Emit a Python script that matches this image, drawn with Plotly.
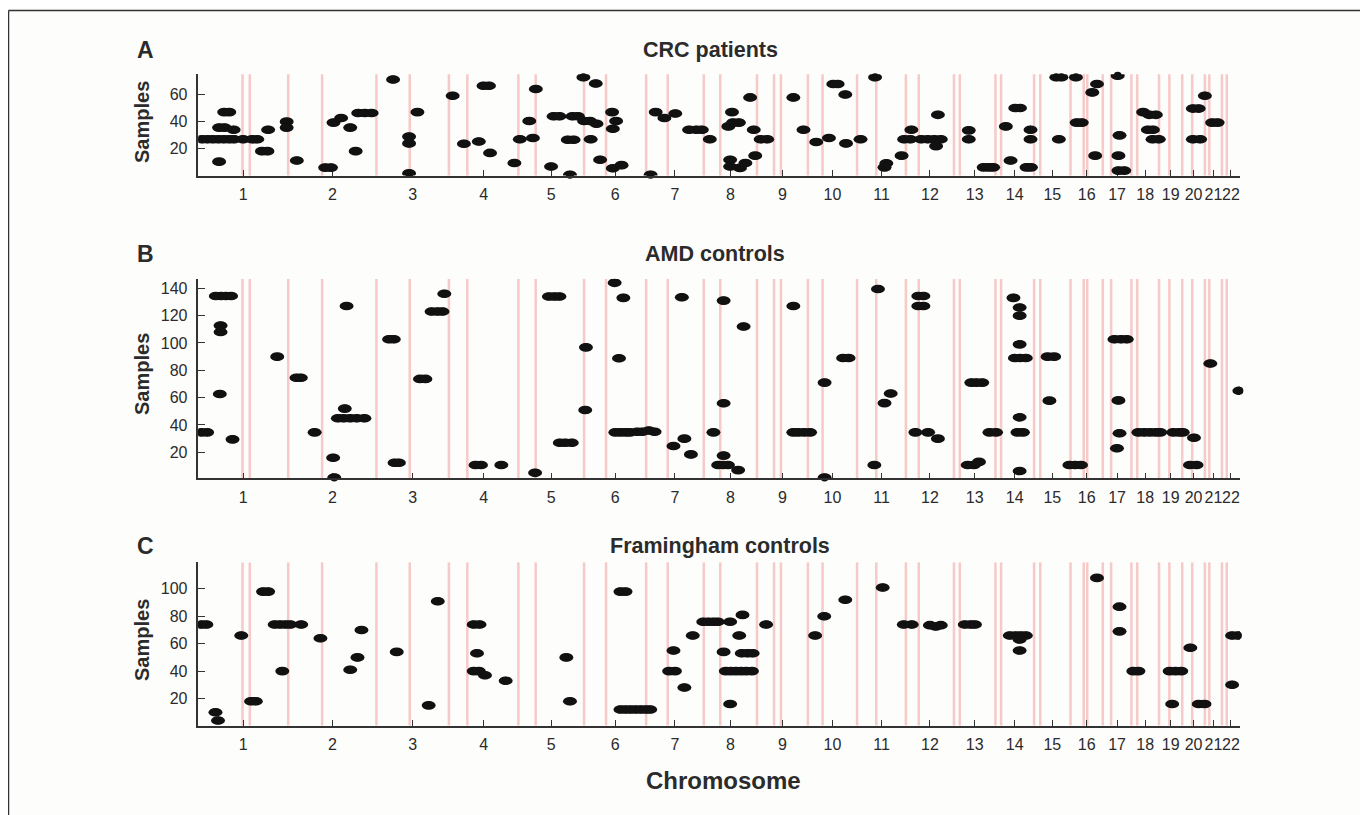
import plotly.graph_objects as go

# ---------------- data ----------------
CHROMOSOMES = [str(i) for i in range(1, 23)]
# hg18 chromosome lengths (Mb)
CHR_LEN_MB = [247.25, 242.95, 199.50, 191.27, 180.86, 170.90, 158.82, 146.27, 140.27, 135.37,
              134.45, 132.35, 114.14, 106.37, 100.34, 88.83, 78.77, 76.12, 63.81, 62.44,
              46.94, 49.69]
# centromere position within each chromosome (Mb)
CENTROMERE_MB = [121.5, 93.4, 91.7, 50.7, 47.7, 60.5, 59.4, 45.2, 47.0, 40.3,
                 52.9, 35.4, 16.0, 15.6, 17.0, 36.4, 22.9, 16.0, 28.4, 27.5,
                 12.2, 13.3]
# end of large pericentromeric heterochromatin blocks (chromosome -> Mb)
HETEROCHROMATIN_END_MB = {1: 141.5, 9: 66.0, 16: 46.0}

# genome position (Mb, cumulative) and sample index of each detected region
crc_pos_mb = [10, 25, 40, 55, 70, 85, 98, 123, 148, 162,
              57, 72, 97, 71, 85, 57, 192, 175, 190, 243, 243, 271,
              349, 365, 372, 393, 418, 433, 440, 458, 477,
              536, 580, 580, 580, 603,
              700, 731, 772, 785, 800, 803,
              870, 885, 911, 921, 929, 971, 978, 994, 1023, 1017, 1033, 1030, 1045,
              1060, 1080, 1062, 1078, 1094, 1096, 1106,
              1139, 1141, 1150, 1141, 1165,
              1245, 1259, 1283, 1313,
              1351, 1371, 1386, 1408, 1469, 1459, 1472, 1488, 1519, 1529, 1548, 1566,
              1533, 1464, 1464, 1491, 1506,
              1638, 1666, 1701, 1736, 1748, 1760, 1781, 1783, 1823, 1863, 1894, 1889,
              1936, 1963, 1943, 1960, 1990, 2008, 2026, 2044, 2031, 2036,
              2121, 2121, 2162, 2176, 2188, 2223, 2249, 2262, 2236, 2291, 2291, 2280, 2292,
              2362, 2376, 2369, 2416, 2418, 2432, 2474, 2461, 2469,
              2531, 2536, 2533, 2533, 2549, 2601, 2618, 2636, 2614, 2628, 2627, 2644,
              2738, 2754, 2771, 2738, 2758, 2791, 2806]
crc_sample = [27, 27, 27, 27, 27, 27, 27, 27, 27, 27,
              35.6, 35.6, 34, 47, 47, 10.6, 34, 18.3, 18.3, 40, 35.6, 11.4,
              6.2, 6.2, 39.3, 42.7, 35.6, 18.3, 46.4, 46.4, 46.4,
              71, 29, 24, 2, 47,
              59, 23.7, 25.4, 66.4, 66.4, 17,
              9.6, 27, 40.5, 28, 64, 7, 44, 44, 1, 26.7, 26.7, 44, 44,
              72.6, 27, 40.5, 40.5, 68, 38.5, 12,
              47, 34.8, 40.5, 5.7, 8,
              1, 47, 42.7, 46,
              34, 34, 34, 27, 47, 36.5, 39.3, 39.3, 57.8, 34, 27, 27,
              15, 12, 7, 6, 9.6,
              57.8, 34, 25, 28, 67.7, 67.7, 60, 24, 27, 72.6, 9.4, 6.4,
              15, 34, 27, 27, 27, 27, 27, 27, 22, 45,
              33.6, 27, 6.4, 6.4, 6.4, 36.5, 50, 50, 11.4, 34, 27, 6.4, 6.4,
              72.6, 72.6, 27, 72.6, 39.3, 39.3, 67.7, 61.5, 15,
              73.8, 29.9, 15, 4, 4, 47, 45, 45, 34, 34, 27, 27,
              49.6, 49.6, 59, 27, 27, 39.3, 39.3]

amd_pos_mb = [8, 24, 48, 62, 76, 90, 61, 61, 59, 94,
              217, 270, 282, 320, 371, 374, 403, 384, 400, 418, 436, 457, 408,
              525, 538, 540, 552, 610, 625, 642, 658, 672, 677,
              763, 778, 834, 927, 965, 980, 994, 995, 1010, 1028,
              1067, 1065, 1146, 1170, 1158, 1148, 1162, 1176, 1188, 1208, 1222, 1240, 1256,
              1308, 1331, 1338, 1356, 1418, 1446, 1446, 1446, 1431, 1445, 1458, 1486, 1501,
              1638, 1638, 1652, 1668, 1684, 1724, 1724, 1775, 1790,
              1871, 1889, 1906, 1861, 1974, 2009, 2036, 1982, 1996, 1982, 1996,
              2118, 2135, 2149, 2128, 2142, 2158, 2178, 2196,
              2244, 2261, 2261, 2261, 2248, 2262, 2278, 2261, 2255, 2270, 2261,
              2338, 2356, 2343, 2398, 2414, 2430,
              2522, 2540, 2556, 2533, 2536, 2529,
              2588, 2604, 2620, 2636, 2648, 2684, 2700, 2710, 2741, 2730, 2748,
              2786, 2866]
amd_sample = [34.6, 34.6, 134.4, 134.4, 134.4, 134.4, 112.7, 108, 62.7, 29.5,
              90, 74.6, 74.6, 34.6, 16, 1.5, 52, 44.9, 44.9, 44.9, 44.9, 44.9, 127,
              102.7, 102.7, 12.4, 12.4, 73.7, 73.7, 123, 123, 123, 136,
              10.7, 10.7, 10.7, 5, 134, 134, 134, 27, 27, 27,
              96.8, 51, 144, 133, 88.8, 34.6, 34.6, 34.6, 34.6, 35, 35, 36, 35,
              24.6, 133.4, 30, 18.5, 34.6, 131, 55.9, 17.6, 10.7, 10.7, 10.7, 7, 112,
              127, 34.6, 34.6, 34.6, 34.6, 71, 1.5, 89, 89,
              139.5, 56, 63, 10.7, 34.6, 34.6, 30, 134.4, 134.4, 127, 127,
              10.7, 10.7, 13, 71, 71, 71, 34.6, 34.6,
              133, 126, 120, 99, 89, 89, 89, 45.6, 34.6, 34.6, 6.3,
              90, 90, 57.8, 10.7, 10.7, 10.7,
              102.7, 102.7, 102.7, 58, 34, 23,
              34.6, 34.6, 34.6, 34.6, 34.6, 34.6, 34.6, 34.6, 30.7, 10.7, 10.7,
              85, 65]

fhs_pos_mb = [8, 22, 47, 54, 118, 145, 158, 178, 192, 210, 225, 240, 253, 231, 283,
              336, 418, 438, 449, 546, 634, 659, 758, 774, 767, 758, 772, 789, 846,
              1013, 1023, 1162, 1176, 1162, 1176, 1190, 1204, 1218, 1232, 1244,
              1308, 1296, 1312, 1338, 1361, 1390, 1404, 1418, 1430, 1464, 1498, 1489,
              1446, 1496, 1512, 1526, 1452, 1466, 1480, 1494, 1508, 1524, 1464,
              1563, 1698, 1723, 1781, 1884, 1942, 1964, 2014, 2030, 2044,
              2110, 2126, 2138, 2234, 2250, 2264, 2278, 2261, 2261,
              2474, 2536, 2536, 2574, 2588, 2674, 2690, 2706, 2681, 2731,
              2754, 2770, 2846, 2846, 2862]
fhs_sample = [74, 74, 10, 4, 66, 18, 18, 98, 98, 74, 74, 74, 74, 40, 74,
              64, 41, 50, 70, 54, 15, 91, 74, 74, 53, 40, 40, 37, 33,
              50, 18, 98, 98, 12, 12, 12, 12, 12, 12, 12,
              55, 40, 40, 28, 66, 76, 76, 76, 76, 76, 81, 66,
              54, 53, 53, 53, 40, 40, 40, 40, 40, 40, 16,
              74, 66, 80, 92, 101, 74, 74, 73.5, 72.5, 73.5,
              74, 74, 74, 66, 66, 66, 66, 63, 55,
              108, 87, 69, 40, 40, 40, 40, 40, 16, 57,
              16, 16, 30, 66, 66]

PANELS = [
    dict(letter="A", title="CRC patients", pos=crc_pos_mb, val=crc_sample,
         yticks=[20, 40, 60], yrange=[0.4, 74.8]),
    dict(letter="B", title="AMD controls", pos=amd_pos_mb, val=amd_sample,
         yticks=[20, 40, 60, 80, 100, 120, 140], yrange=[1.0, 146.8]),
    dict(letter="C", title="Framingham controls", pos=fhs_pos_mb, val=fhs_sample,
         yticks=[20, 40, 60, 80, 100], yrange=[0.3, 119.3]),
]

# ---------------- derived genome coordinates ----------------
chr_start = []
acc = 0.0
for L in CHR_LEN_MB:
    chr_start.append(acc)
    acc += L
genome_end = acc
chr_center = [s + L / 2 for s, L in zip(chr_start, CHR_LEN_MB)]
marker_lines = list(chr_start[1:])
for i, c in enumerate(CENTROMERE_MB):
    marker_lines.append(chr_start[i] + c)
for ch, e in HETEROCHROMATIN_END_MB.items():
    marker_lines.append(chr_start[ch - 1] + e)

# ---------------- layout geometry ----------------
# the page body has an 8px margin, so the figure sits at (8, 8) in the window;
# positions below are given in window pixels and converted to paper fractions.
PAD = 8
W, H = 1368 - PAD, 815 - PAD


def fx(px):
    return (px - PAD) / W


def fy(py):
    return 1 - (py - PAD) / H


FONT = "Liberation Sans, Arial, Helvetica, sans-serif"
TXT = "#2b2b2b"
x_dom = [fx(198.4), fx(1240.0)]
y_px = [(74.3, 175.5), (279.0, 478.3), (562.4, 725.5)]
title_cx = [710, 715, 720]
title_cy = [50, 254, 546]
samples_cy = [122, 374, 640]

fig = go.Figure()
shapes = []
annotations = []

for i, p in enumerate(PANELS):
    n = "" if i == 0 else str(i + 1)
    xr, yr = "x" + n, "y" + n
    top, bot = y_px[i]
    fig.add_trace(go.Scatter(
        x=p["pos"], y=p["val"], mode="markers", xaxis=xr, yaxis=yr,
        marker=dict(symbol="circle", size=8, color="#111111", line=dict(width=0)),
        cliponaxis=False, showlegend=False, name=p["title"],
        hovertemplate="%{x:.0f} Mb<br>sample %{y:.0f}<extra>" + p["title"] + "</extra>"))
    fig.layout["xaxis" + n] = dict(
        domain=x_dom, anchor=yr, range=[0, genome_end],
        tickmode="array", tickvals=chr_center, ticktext=CHROMOSOMES, tickangle=0,
        ticks="inside", ticklen=6, tickwidth=1.3, tickcolor="#333",
        showline=True, linecolor="#333", linewidth=1.5, showgrid=False, zeroline=False,
        ticklabelstandoff=4, tickfont=dict(family=FONT, size=16, color=TXT))
    fig.layout["yaxis" + n] = dict(
        domain=[fy(bot), fy(top)], anchor=xr, range=p["yrange"],
        tickmode="array", tickvals=p["yticks"],
        ticks="inside", ticklen=7, tickwidth=1.3, tickcolor="#333",
        showline=True, linecolor="#333", linewidth=1.5, showgrid=False, zeroline=False,
        ticklabelstandoff=6, tickfont=dict(family=FONT, size=16, color=TXT))
    # chromosome boundary / centromere lines
    for xm in marker_lines:
        shapes.append(dict(type="line", xref=xr, yref=yr + " domain", x0=xm, x1=xm,
                           y0=0, y1=1, layer="below",
                           line=dict(color="rgba(236,130,130,0.42)", width=2.5)))
    # elliptical region marks
    for xv, yv in zip(p["pos"], p["val"]):
        shapes.append(dict(type="circle", xref=xr, yref=yr, xsizemode="pixel",
                           ysizemode="pixel", xanchor=xv, yanchor=yv,
                           x0=-7, x1=7, y0=-4.3, y1=4.3, layer="above",
                           fillcolor="#111111", line=dict(width=0)))
    annotations.append(dict(text="<b>" + p["letter"] + "</b>", xref="paper", yref="paper",
                            x=fx(145), y=fy(title_cy[i]), xanchor="center", yanchor="middle",
                            showarrow=False, font=dict(family=FONT, size=23, color=TXT)))
    annotations.append(dict(text="<b>" + p["title"] + "</b>", xref="paper", yref="paper",
                            x=fx(title_cx[i]), y=fy(title_cy[i]), xanchor="center",
                            yanchor="middle", showarrow=False,
                            font=dict(family=FONT, size=21.5, color=TXT)))
    annotations.append(dict(text="<b>Samples</b>", xref="paper", yref="paper",
                            x=fx(142), y=fy(samples_cy[i]), xanchor="center",
                            yanchor="middle", textangle=-90, showarrow=False,
                            font=dict(family=FONT, size=20, color=TXT)))

annotations.append(dict(text="<b>Chromosome</b>", xref="paper", yref="paper",
                        x=fx(723), y=fy(780), xanchor="center", yanchor="middle",
                        showarrow=False, font=dict(family=FONT, size=24, color=TXT)))

# outer frame of the figure (top and left edges)
shapes.append(dict(type="line", xref="paper", yref="paper", x0=fx(8.5), x1=1.0,
                   y0=fy(10.5), y1=fy(10.5), line=dict(color="#333", width=1.5)))
shapes.append(dict(type="line", xref="paper", yref="paper", x0=fx(8.5), x1=fx(8.5),
                   y0=0, y1=fy(10.5), line=dict(color="#333", width=1.5)))

fig.update_layout(width=W, height=H, margin=dict(l=0, r=0, t=0, b=0),
                  paper_bgcolor="#fdfdfb", plot_bgcolor="#fdfdfb",
                  shapes=shapes, annotations=annotations, showlegend=False,
                  font=dict(family=FONT, color=TXT))

fig.write_html("out.html")
